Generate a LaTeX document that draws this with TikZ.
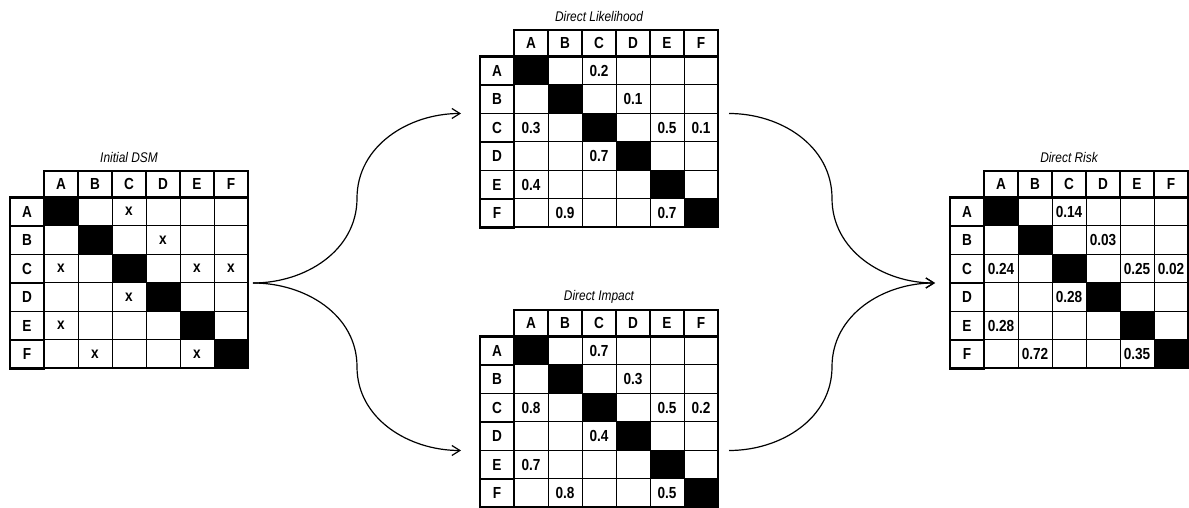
\documentclass[tikz,border=0pt]{standalone}
\usepackage{fontspec}
\setmainfont{Liberation Sans}[FakeStretch=0.85]
\usepackage{tikz}
\usetikzlibrary{arrows.meta, calc}

% one DSM: name, origin (top left), title, entries row/col/value
\newcommand{\dsmgrid}[4]{%
  \begin{scope}[shift={#2}]
    \node[dsmtitle] (#1-title) at (119,13.5) {#3};
    % header row and label column
    \foreach \k/\l in {1/A,2/B,3/C,4/D,5/E,6/F} {
      \node[headcell] (#1-h\k) at (34*\k+17,-13.25) {\l};
      \node[labelcell] (#1-l\k) at (17,-12.25-28.5*\k) {\l};
    }
    % body
    \foreach \i in {1,...,6} {
      \foreach \j in {1,...,6} {
        \ifnum\i=\j
          \node[diagcell] (#1-\i-\j) at (34*\j+17,-12.25-28.5*\i) {};
        \else
          \node[cell] (#1-\i-\j) at (34*\j+17,-12.25-28.5*\i) {};
        \fi
      }
    }
    \foreach \i/\j/\v in {#4}
      \node[entry] (#1-v\i\j) at (#1-\i-\j) {\v};
    % heavy borders
    \draw[line width=1.3pt] (#1-h1.south west) rectangle (#1-h6.north east);
    \draw[line width=1.3pt] (#1-l1.north west) rectangle (#1-l6.south east);
    \draw[line width=1pt] (#1-1-1.north west) rectangle (#1-6-6.south east);
  \end{scope}
}

\begin{document}
\begin{tikzpicture}[x=0.5pt, y=0.5pt,
    font=\fontsize{7}{8}\selectfont,
    cell/.style={draw, line width=0.5pt, inner sep=0pt, outer sep=0pt,
      minimum width=17pt, minimum height=14.25pt},
    diagcell/.style={cell, fill=black},
    headcell/.style={cell, line width=0.8pt, minimum height=13.25pt, font=\fontsize{8}{9}\selectfont\bfseries},
    labelcell/.style={cell, line width=0.8pt, font=\fontsize{8}{9}\selectfont\bfseries},
    entry/.style={inner sep=0pt, font=\fontsize{8}{9}\selectfont\bfseries},
    dsmtitle/.style={inner sep=0pt, font=\fontsize{7}{8}\selectfont\itshape},
    conn/.style={line width=0.6pt, -{Straight Barb[length=4pt,width=5pt]}}]
  \useasboundingbox (0,0) rectangle (1189,508);

  % matrices
  \dsmgrid{dsm}{(10,337)}{Initial DSM}%
    {1/3/x, 2/4/x, 3/1/x, 3/5/x, 3/6/x, 4/3/x, 5/1/x, 6/2/x, 6/5/x}
  \dsmgrid{lik}{(480,478)}{Direct Likelihood}%
    {1/3/0.2, 2/4/0.1, 3/1/0.3, 3/5/0.5, 3/6/0.1, 4/3/0.7, 5/1/0.4, 6/2/0.9, 6/5/0.7}
  \dsmgrid{imp}{(480,198)}{Direct Impact}%
    {1/3/0.7, 2/4/0.3, 3/1/0.8, 3/5/0.5, 3/6/0.2, 4/3/0.4, 5/1/0.7, 6/2/0.8, 6/5/0.5}
  \dsmgrid{risk}{(950,337)}{Direct Risk}%
    {1/3/0.14, 2/4/0.03, 3/1/0.24, 3/5/0.25, 3/6/0.02, 4/3/0.28, 5/1/0.28, 6/2/0.72, 6/5/0.35}

  % arrow ends
  \coordinate (dsmout) at ($(dsm-3-6.south east)+(5,0)$);
  \coordinate (likin) at ($(lik-l2.south west)+(-19,0)$);
  \coordinate (impin) at ($(imp-l4.south west)+(-19,0)$);
  \coordinate (likout) at ($(lik-2-6.south east)+(11,0)$);
  \coordinate (impout) at ($(imp-4-6.south east)+(11,0)$);
  \coordinate (riskin) at ($(risk-l3.south west)+(-15,0)$);

  % arrows
  \draw[conn] (dsmout) to[out=0,in=-90] ($(dsmout)!.5!(likin)$) to[out=90,in=180] (likin);
  \draw[conn] (dsmout) to[out=0,in=90] ($(dsmout)!.5!(impin)$) to[out=-90,in=180] (impin);
  \draw[conn] (likout) to[out=0,in=90] ($(likout)!.5!(riskin)$) to[out=-90,in=180] (riskin);
  \draw[conn] (impout) to[out=0,in=-90] ($(impout)!.5!(riskin)$) to[out=90,in=180] (riskin);
\end{tikzpicture}
\end{document}
